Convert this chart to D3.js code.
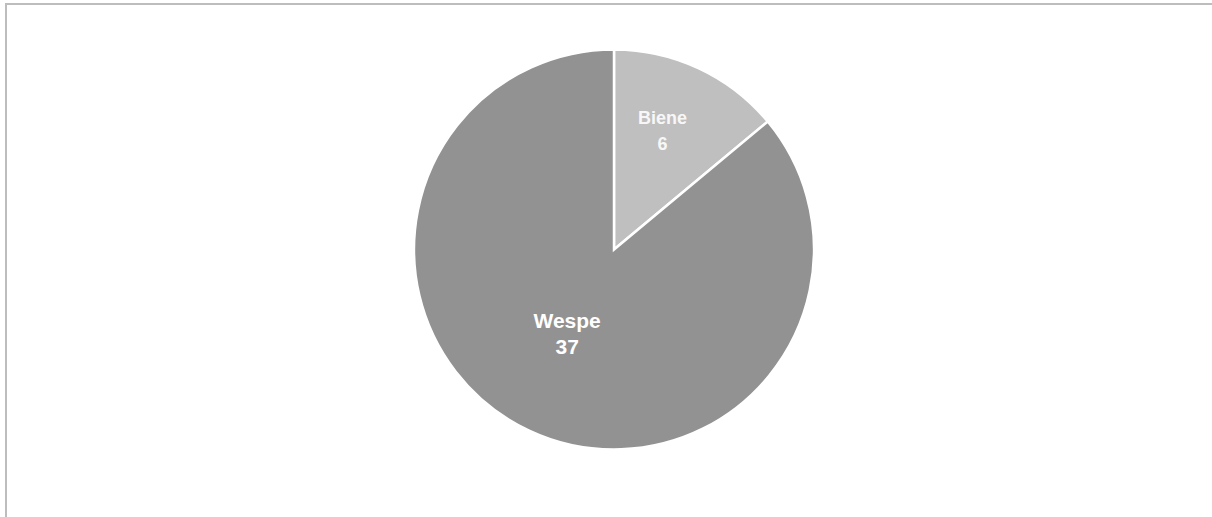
<!DOCTYPE html>
<html>
<head>
<meta charset="utf-8">
<script src="https://cdn.jsdelivr.net/npm/d3@7"></script>
<style>
  html, body { margin: 0; padding: 0; background: #ffffff; }
  svg { display: block; }
</style>
</head>
<body>
<svg id="chart" width="1212" height="517"></svg>
<script>
// Insect counts
const categories = ["Biene", "Wespe"];
const values = [6, 37];
const colors = ["#bfbfbf", "#929292"];

const width = 1212, height = 517;
const svg = d3.select("#chart");

// frame lines (top and left)
svg.append("rect").attr("x", 5).attr("y", 3).attr("width", width - 5).attr("height", 2)
  .attr("fill", "#bdbdbd");
svg.append("rect").attr("x", 5).attr("y", 3).attr("width", 2).attr("height", height - 3)
  .attr("fill", "#bdbdbd");

const cx = 614, cy = 249.5, R = 200;
const g = svg.append("g").attr("transform", `translate(${cx},${cy})`);

const data = categories.map((c, i) => ({ name: c, value: values[i], color: colors[i] }));
const pie = d3.pie().value(d => d.value).sort(null);
const arcs = pie(data);
const arc = d3.arc().innerRadius(0).outerRadius(R);

g.selectAll("path.slice").data(arcs).join("path")
  .attr("class", "slice")
  .attr("d", arc)
  .attr("fill", d => d.data.color)
  .attr("stroke", "#ffffff")
  .attr("stroke-width", 2.5)
  .attr("stroke-linejoin", "miter");

// labels: category name and value, stacked around the slice centroid
const isLarge = d => (d.endAngle - d.startAngle) > Math.PI;
const labelRadius = d => isLarge(d) ? 101 : 124;
const fontSize = d => isLarge(d) ? 21 : 18;
const lineGap = 26;

arcs.forEach(d => {
  const r = labelRadius(d);
  const [x, y] = d3.arc().innerRadius(r).outerRadius(r).centroid(d);
  const fs = fontSize(d);
  const t = g.append("text")
    .attr("text-anchor", "middle")
    .attr("font-family", "'Liberation Sans', Arial, Helvetica, sans-serif")
    .attr("font-size", fs)
    .attr("font-weight", "bold")
    .attr("fill", d.value > 20 ? "#ffffff" : "#f7f7f7");
  t.append("tspan").attr("x", x - 4).attr("y", y - lineGap / 2).text(d.data.name);
  t.append("tspan").attr("x", x - 4).attr("y", y + lineGap / 2).text(d.data.value);
});
</script>
</body>
</html>
